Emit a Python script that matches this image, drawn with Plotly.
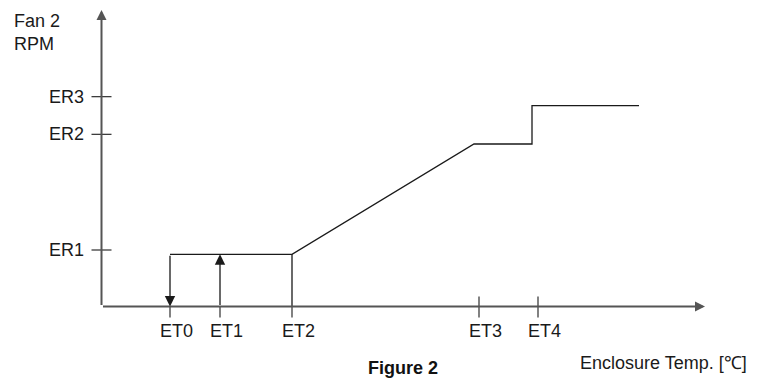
import plotly.graph_objects as go

# ---- data (arbitrary units, origin at axes crossing) ----
et_labels = ["ET0", "ET1", "ET2", "ET3", "ET4"]
et_values = [6.85, 11.85, 19.05, 37.75, 43.65]
er_labels = ["ER1", "ER2", "ER3"]
er_values = [5.65, 17.22, 20.98]

# fan speed curve (temperature -> RPM)
curve_x = [6.85, 19.05, 37.25, 43.05, 43.05, 53.75]
curve_y = [5.22, 5.22, 16.25, 16.25, 20.08, 20.08]

x_axis_end = 60.35
y_axis_end = 29.65

INK = "#1a1a1a"
AXIS = "#555555"
FONT = "Liberation Sans, Arial, sans-serif"
FS = 18

fig = go.Figure()

# main curve
fig.add_trace(go.Scatter(x=curve_x, y=curve_y, mode="lines",
                         line=dict(color=INK, width=1.3), hoverinfo="skip"))

# ET2 vertical drop line
fig.add_trace(go.Scatter(x=[et_values[2], et_values[2]], y=[0, curve_y[1]], mode="lines",
                         line=dict(color=INK, width=1.3), hoverinfo="skip"))

# ticks on x axis
tx, ty = [], []
for i, v in enumerate(et_values):
    top = 1.0 if i >= 3 else 0.0
    tx += [v, v, None]
    ty += [-1.1, top, None]
fig.add_trace(go.Scatter(x=tx, y=ty, mode="lines", line=dict(color=INK, width=1.1),
                         hoverinfo="skip"))

# ticks on y axis
sx, sy = [], []
for v in er_values:
    sx += [-1.0, 1.0, None]
    sy += [v, v, None]
fig.add_trace(go.Scatter(x=sx, y=sy, mode="lines", line=dict(color=INK, width=1.1),
                         hoverinfo="skip"))

annotations = []
# axes with arrows
annotations.append(dict(x=x_axis_end, y=0, ax=0, ay=0, axref="x", ayref="y", xref="x", yref="y",
                        text="", showarrow=True, arrowhead=2, arrowsize=1, arrowwidth=2,
                        arrowcolor=AXIS))
annotations.append(dict(x=0, y=y_axis_end, ax=0, ay=0, axref="x", ayref="y", xref="x", yref="y",
                        text="", showarrow=True, arrowhead=2, arrowsize=1, arrowwidth=2,
                        arrowcolor=AXIS))
# ET0 down arrow, ET1 up arrow
annotations.append(dict(x=et_values[0], y=0, ax=et_values[0], ay=curve_y[0], axref="x", ayref="y",
                        xref="x", yref="y", text="", showarrow=True, arrowhead=2, arrowsize=1.6,
                        arrowwidth=1.3, arrowcolor=INK))
annotations.append(dict(x=et_values[1], y=curve_y[0], ax=et_values[1], ay=0, axref="x", ayref="y",
                        xref="x", yref="y", text="", showarrow=True, arrowhead=2, arrowsize=1.6,
                        arrowwidth=1.3, arrowcolor=INK))

# tick labels
for lab, v in zip(et_labels, et_values):
    annotations.append(dict(x=v + 0.6, y=-2.45, xref="x", yref="y", text=lab, showarrow=False,
                            xanchor="center", yanchor="middle",
                            font=dict(family=FONT, size=FS, color=INK)))
for lab, v in zip(er_labels, er_values):
    annotations.append(dict(x=-1.55, y=v, xref="x", yref="y", text=lab, showarrow=False,
                            xanchor="right", yanchor="middle",
                            font=dict(family=FONT, size=FS, color=INK)))

# axis titles and caption
annotations.append(dict(x=-8.95, y=28.6, xref="x", yref="y", text="Fan 2", showarrow=False,
                        xanchor="left", yanchor="middle", font=dict(family=FONT, size=FS, color=INK)))
annotations.append(dict(x=-8.95, y=26.3, xref="x", yref="y", text="RPM", showarrow=False,
                        xanchor="left", yanchor="middle", font=dict(family=FONT, size=FS, color=INK)))
annotations.append(dict(x=64.75, y=-5.65, xref="x", yref="y", text="Enclosure Temp. [℃]",
                        showarrow=False, xanchor="right", yanchor="middle",
                        font=dict(family=FONT, size=FS, color=INK)))
annotations.append(dict(x=30.1, y=-6.15, xref="x", yref="y", text="<b>Figure 2</b>",
                        showarrow=False, xanchor="center", yanchor="middle",
                        font=dict(family=FONT, size=FS, color="#111111")))

# page body has an 8px margin: the figure div starts at (8, 8)
fig.update_layout(
    width=752, height=370,
    margin=dict(l=0, r=0, t=0, b=0),
    paper_bgcolor="white", plot_bgcolor="white",
    showlegend=False,
    xaxis=dict(range=[-9.35, 65.85], visible=False, fixedrange=True),
    yaxis=dict(range=[-7.15, 29.85], visible=False, fixedrange=True),
    annotations=annotations,
)

fig.write_html("out.html", config={"displayModeBar": False})
